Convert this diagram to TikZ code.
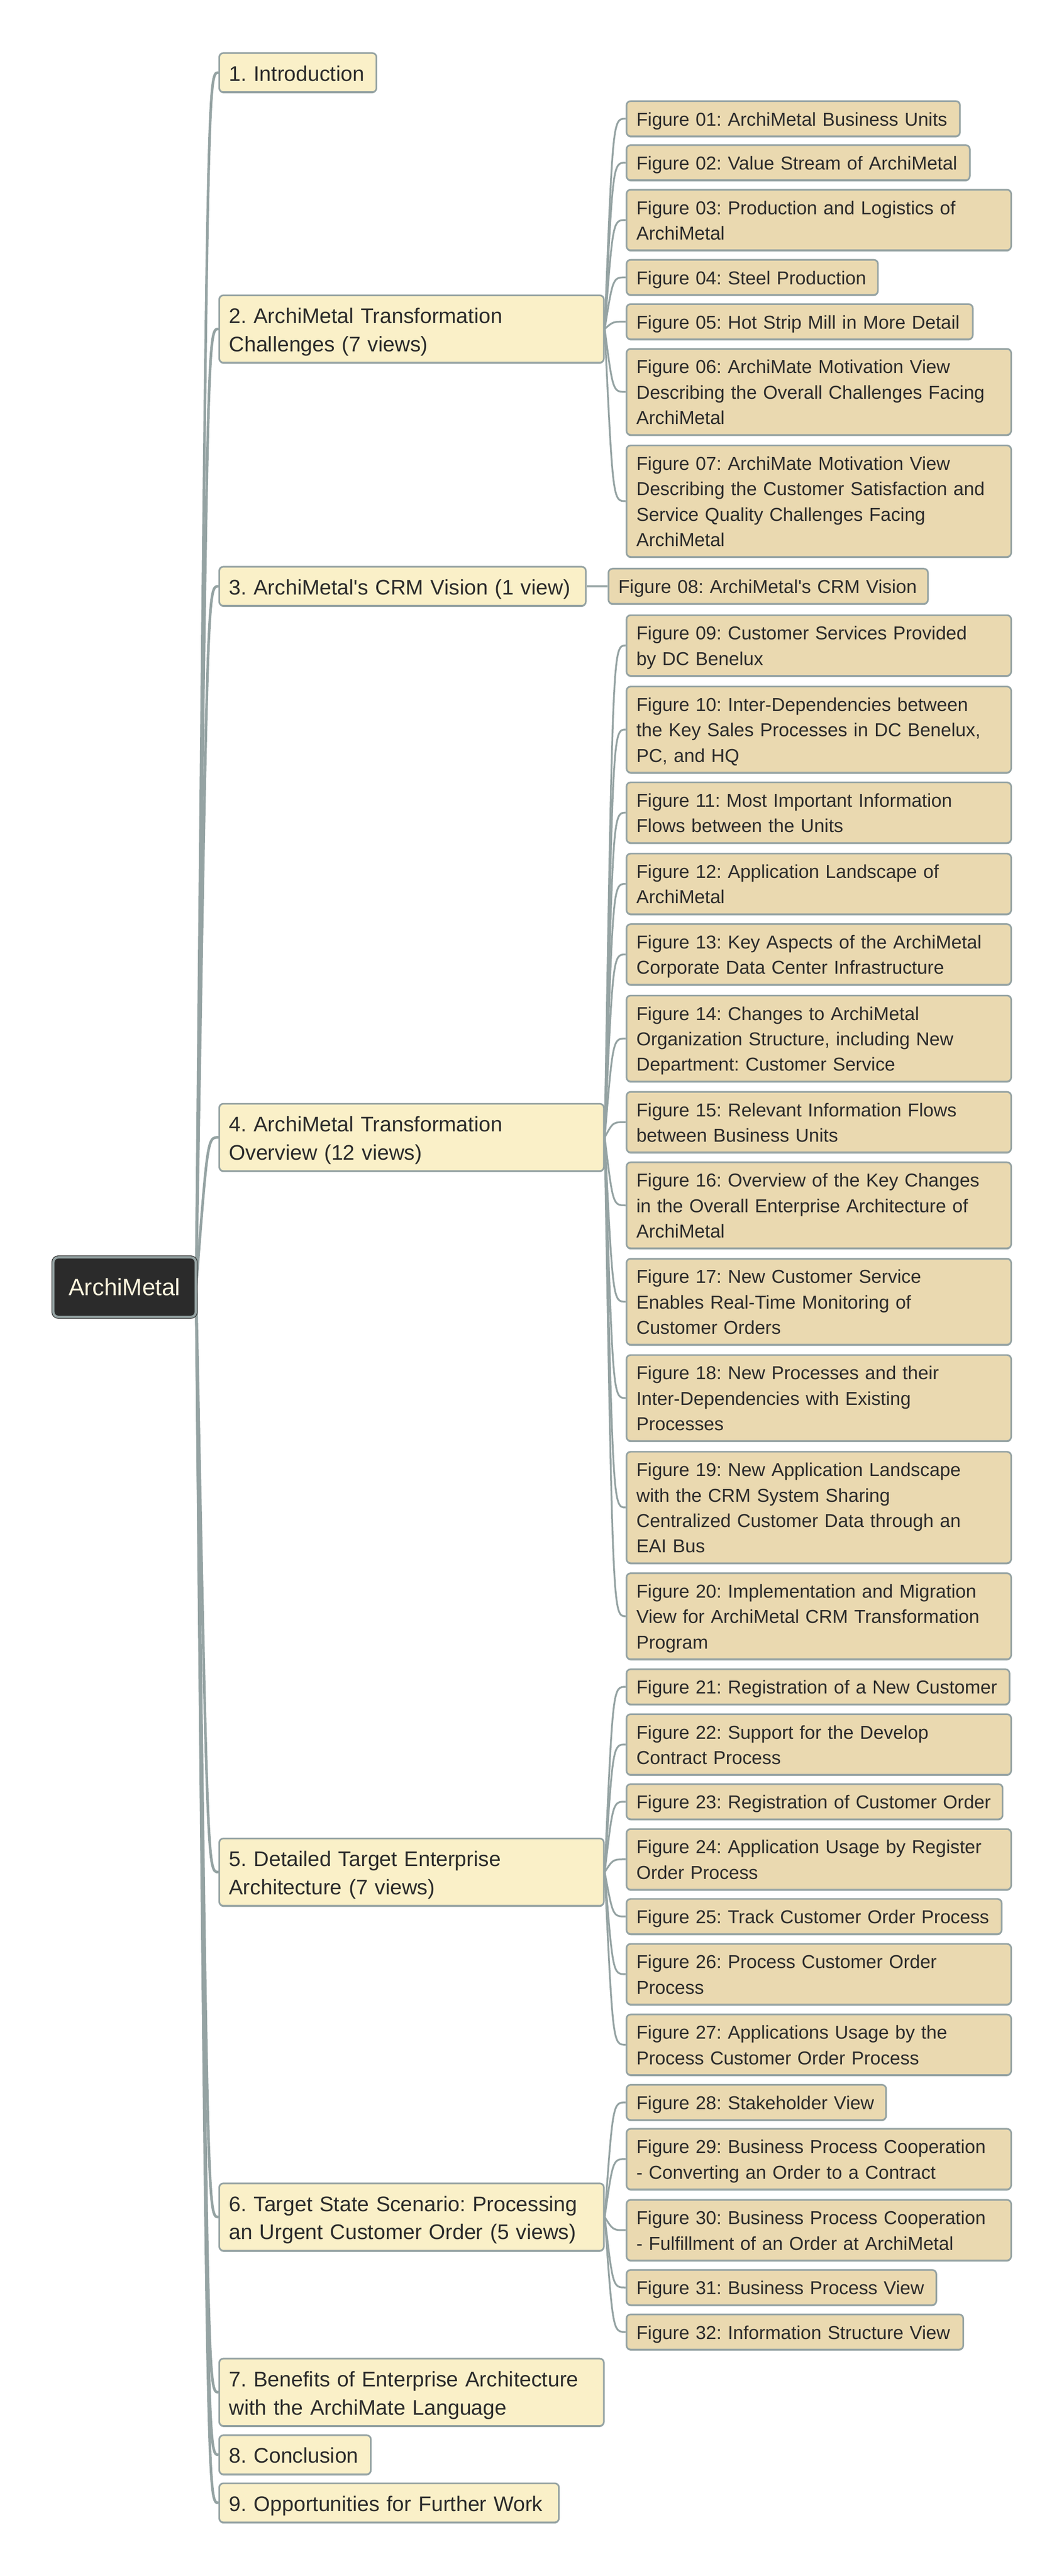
\documentclass[tikz,border=0pt]{standalone}
\usepackage{fontspec}
\setmainfont{Liberation Sans}[Ligatures=TeXOff]
\usetikzlibrary{backgrounds,shadows}
\frenchspacing

\definecolor{edgegray}{HTML}{95A3A3}
\definecolor{topicfill}{HTML}{FAF0C8}
\definecolor{figfill}{HTML}{EAD9B0}
\definecolor{inkdark}{HTML}{2B2B2B}
\definecolor{rootink}{HTML}{FFF6DE}

\tikzset{
  box/.style={draw=edgegray, line width=1pt, rounded corners=2.5pt, anchor=west,
    text=inkdark, align=left, inner xsep=6pt,
    general shadow={fill=edgegray, shadow yshift=-0.7pt}},
  rootbox/.style={fill=inkdark, draw=inkdark, line width=0.4pt, double=edgegray,
    double distance=1.4pt, rounded corners=3pt, minimum width=86.8pt,
    minimum height=36.3pt, inner sep=0pt, text=rootink,
    font=\fontsize{14.4}{17}\selectfont, text height=10.3pt, text depth=0pt},
  topic/.style={box, fill=topicfill, text width=#1, inner ysep=2.8pt,
    font=\fontsize{12.9}{17.2}\selectfont,
    execute at begin node={\hyphenpenalty=10000 \rule{0pt}{14.2pt}},
    execute at end node={\rule[-4pt]{0pt}{4pt}}},
  topic/.default=222.4pt,
  fig/.style={box, fill=figfill, text width=#1, inner ysep=2.4pt,
    font=\fontsize{11.4}{15.5}\selectfont,
    execute at begin node={\hyphenpenalty=10000 \rule{0pt}{12.6pt}},
    execute at end node={\rule[-4pt]{0pt}{4pt}}},
  fig/.default=222.4pt,
  link/.style={draw=edgegray, line width=1.6pt},
  sublink/.style={draw=edgegray, line width=1.1pt}
}

\begin{document}
\begin{tikzpicture}[x=1pt, y=-1pt]
  \useasboundingbox (0,0) rectangle (648.2,1570);

  \node[rootbox] (root) at (75.9,784.45) {ArchiMetal};

  % chapters
  \node[topic=83.8pt] (t1) at (133.1,44.25) {1. Introduction};
  \node[topic] (t2) at (133.1,200.5) {2. ArchiMetal Transformation\\Challenges (7 views)};
  \node[topic=211.4pt] (t3) at (133.1,357.3) {3. ArchiMetal's CRM Vision (1 view)};
  \node[topic] (t4) at (133.1,693.2) {4. ArchiMetal Transformation\\Overview (12 views)};
  \node[topic] (t5) at (133.1,1141) {5. Detailed Target Enterprise\\Architecture (7 views)};
  \node[topic] (t6) at (133.1,1351.2) {6. Target State Scenario: Processing\\an Urgent Customer Order (5 views)};
  \node[topic] (t7) at (133.1,1458) {7. Benefits of Enterprise Architecture\\with the ArchiMate Language};
  \node[topic=80.4pt] (t8) at (133.1,1496.1) {8. Conclusion};
  \node[topic=195pt] (t9) at (133.1,1525.4) {9. Opportunities for Further Work};

  % figures
  \node[fig=191.2pt] (f01) at (381.3,72.35) {Figure 01: ArchiMetal Business Units};
  \node[fig=197.2pt] (f02) at (381.3,99.15) {Figure 02: Value Stream of ArchiMetal};
  \node[fig] (f03) at (381.3,134.1) {Figure 03: Production and Logistics of\\ArchiMetal};
  \node[fig=141.2pt] (f04) at (381.3,169.05) {Figure 04: Steel Production};
  \node[fig=199pt] (f05) at (381.3,196.05) {Figure 05: Hot Strip Mill in More Detail};
  \node[fig] (f06) at (381.3,238.85) {Figure 06: ArchiMate Motivation View\\Describing the Overall Challenges Facing\\ArchiMetal};
  \node[fig] (f07) at (381.3,305.45) {Figure 07: ArchiMate Motivation View\\Describing the Customer Satisfaction and\\Service Quality Challenges Facing\\ArchiMetal};
  \node[fig=182.7pt] (f08) at (370.3,357.3) {Figure 08: ArchiMetal's CRM Vision};
  \node[fig] (f09) at (381.3,393.4) {Figure 09: Customer Services Provided\\by DC Benelux};
  \node[fig] (f10) at (381.3,444.65) {Figure 10: Inter-Dependencies between\\the Key Sales Processes in DC Benelux,\\PC, and HQ};
  \node[fig] (f11) at (381.3,495.3) {Figure 11: Most Important Information\\Flows between the Units};
  \node[fig] (f12) at (381.3,538.7) {Figure 12: Application Landscape of\\ArchiMetal};
  \node[fig] (f13) at (381.3,581.7) {Figure 13: Key Aspects of the ArchiMetal\\Corporate Data Center Infrastructure};
  \node[fig] (f14) at (381.3,632.95) {Figure 14: Changes to ArchiMetal\\Organization Structure, including New\\Department: Customer Service};
  \node[fig] (f15) at (381.3,683.9) {Figure 15: Relevant Information Flows\\between Business Units};
  \node[fig] (f16) at (381.3,734.6) {Figure 16: Overview of the Key Changes\\in the Overall Enterprise Architecture of\\ArchiMetal};
  \node[fig] (f17) at (381.3,793.35) {Figure 17: New Customer Service\\Enables Real-Time Monitoring of\\Customer Orders};
  \node[fig] (f18) at (381.3,852.05) {Figure 18: New Processes and their\\Inter-Dependencies with Existing\\Processes};
  \node[fig] (f19) at (381.3,918.75) {Figure 19: New Application Landscape\\with the CRM System Sharing\\Centralized Customer Data through an\\EAI Bus};
  \node[fig] (f20) at (381.3,985.05) {Figure 20: Implementation and Migration\\View for ArchiMetal CRM Transformation\\Program};
  \node[fig=221.4pt] (f21) at (381.3,1028.05) {Figure 21: Registration of a New Customer};
  \node[fig] (f22) at (381.3,1063.2) {Figure 22: Support for the Develop\\Contract Process};
  \node[fig=217.2pt] (f23) at (381.3,1098.05) {Figure 23: Registration of Customer Order};
  \node[fig] (f24) at (381.3,1133.2) {Figure 24: Application Usage by Register\\Order Process};
  \node[fig=216.6pt] (f25) at (381.3,1168.05) {Figure 25: Track Customer Order Process};
  \node[fig] (f26) at (381.3,1203.2) {Figure 26: Process Customer Order\\Process};
  \node[fig] (f27) at (381.3,1246.2) {Figure 27: Applications Usage by the\\Process Customer Order Process};
  \node[fig=146.2pt] (f28) at (381.3,1281.35) {Figure 28: Stakeholder View};
  \node[fig] (f29) at (381.3,1315.9) {Figure 29: Business Process Cooperation\\- Converting an Order to a Contract};
  \node[fig] (f30) at (381.3,1359.2) {Figure 30: Business Process Cooperation\\- Fulfillment of an Order at ArchiMetal};
  \node[fig=176.8pt] (f31) at (381.3,1394.15) {Figure 31: Business Process View};
  \node[fig=193.2pt] (f32) at (381.3,1421.25) {Figure 32: Information Structure View};

  \begin{scope}[on background layer]
    \coordinate (rootbend) at ([xshift=7pt]root.east);
    \draw[link] (root.east) .. controls (rootbend |- t1.west) .. (t1.west);
    \draw[link] (root.east) .. controls (rootbend |- t2.west) .. (t2.west);
    \draw[link] (root.east) .. controls (rootbend |- t3.west) .. (t3.west);
    \draw[link] (root.east) .. controls (rootbend |- t4.west) .. (t4.west);
    \draw[link] (root.east) .. controls (rootbend |- t5.west) .. (t5.west);
    \draw[link] (root.east) .. controls (rootbend |- t6.west) .. (t6.west);
    \draw[link] (root.east) .. controls (rootbend |- t7.west) .. (t7.west);
    \draw[link] (root.east) .. controls (rootbend |- t8.west) .. (t8.west);
    \draw[link] (root.east) .. controls (rootbend |- t9.west) .. (t9.west);

    \coordinate (t2bend) at ([xshift=5pt]t2.east);
    \draw[sublink] (t2.east) .. controls (t2bend |- f01.west) .. (f01.west);
    \draw[sublink] (t2.east) .. controls (t2bend |- f02.west) .. (f02.west);
    \draw[sublink] (t2.east) .. controls (t2bend |- f03.west) .. (f03.west);
    \draw[sublink] (t2.east) .. controls (t2bend |- f04.west) .. (f04.west);
    \draw[sublink] (t2.east) .. controls (t2bend |- f05.west) .. (f05.west);
    \draw[sublink] (t2.east) .. controls (t2bend |- f06.west) .. (f06.west);
    \draw[sublink] (t2.east) .. controls (t2bend |- f07.west) .. (f07.west);

    \draw[sublink] (t3.east) -- (f08.west);

    \coordinate (t4bend) at ([xshift=5pt]t4.east);
    \draw[sublink] (t4.east) .. controls (t4bend |- f09.west) .. (f09.west);
    \draw[sublink] (t4.east) .. controls (t4bend |- f10.west) .. (f10.west);
    \draw[sublink] (t4.east) .. controls (t4bend |- f11.west) .. (f11.west);
    \draw[sublink] (t4.east) .. controls (t4bend |- f12.west) .. (f12.west);
    \draw[sublink] (t4.east) .. controls (t4bend |- f13.west) .. (f13.west);
    \draw[sublink] (t4.east) .. controls (t4bend |- f14.west) .. (f14.west);
    \draw[sublink] (t4.east) .. controls (t4bend |- f15.west) .. (f15.west);
    \draw[sublink] (t4.east) .. controls (t4bend |- f16.west) .. (f16.west);
    \draw[sublink] (t4.east) .. controls (t4bend |- f17.west) .. (f17.west);
    \draw[sublink] (t4.east) .. controls (t4bend |- f18.west) .. (f18.west);
    \draw[sublink] (t4.east) .. controls (t4bend |- f19.west) .. (f19.west);
    \draw[sublink] (t4.east) .. controls (t4bend |- f20.west) .. (f20.west);

    \coordinate (t5bend) at ([xshift=5pt]t5.east);
    \draw[sublink] (t5.east) .. controls (t5bend |- f21.west) .. (f21.west);
    \draw[sublink] (t5.east) .. controls (t5bend |- f22.west) .. (f22.west);
    \draw[sublink] (t5.east) .. controls (t5bend |- f23.west) .. (f23.west);
    \draw[sublink] (t5.east) .. controls (t5bend |- f24.west) .. (f24.west);
    \draw[sublink] (t5.east) .. controls (t5bend |- f25.west) .. (f25.west);
    \draw[sublink] (t5.east) .. controls (t5bend |- f26.west) .. (f26.west);
    \draw[sublink] (t5.east) .. controls (t5bend |- f27.west) .. (f27.west);

    \coordinate (t6bend) at ([xshift=5pt]t6.east);
    \draw[sublink] (t6.east) .. controls (t6bend |- f28.west) .. (f28.west);
    \draw[sublink] (t6.east) .. controls (t6bend |- f29.west) .. (f29.west);
    \draw[sublink] (t6.east) .. controls (t6bend |- f30.west) .. (f30.west);
    \draw[sublink] (t6.east) .. controls (t6bend |- f31.west) .. (f31.west);
    \draw[sublink] (t6.east) .. controls (t6bend |- f32.west) .. (f32.west);
  \end{scope}
\end{tikzpicture}
\end{document}
